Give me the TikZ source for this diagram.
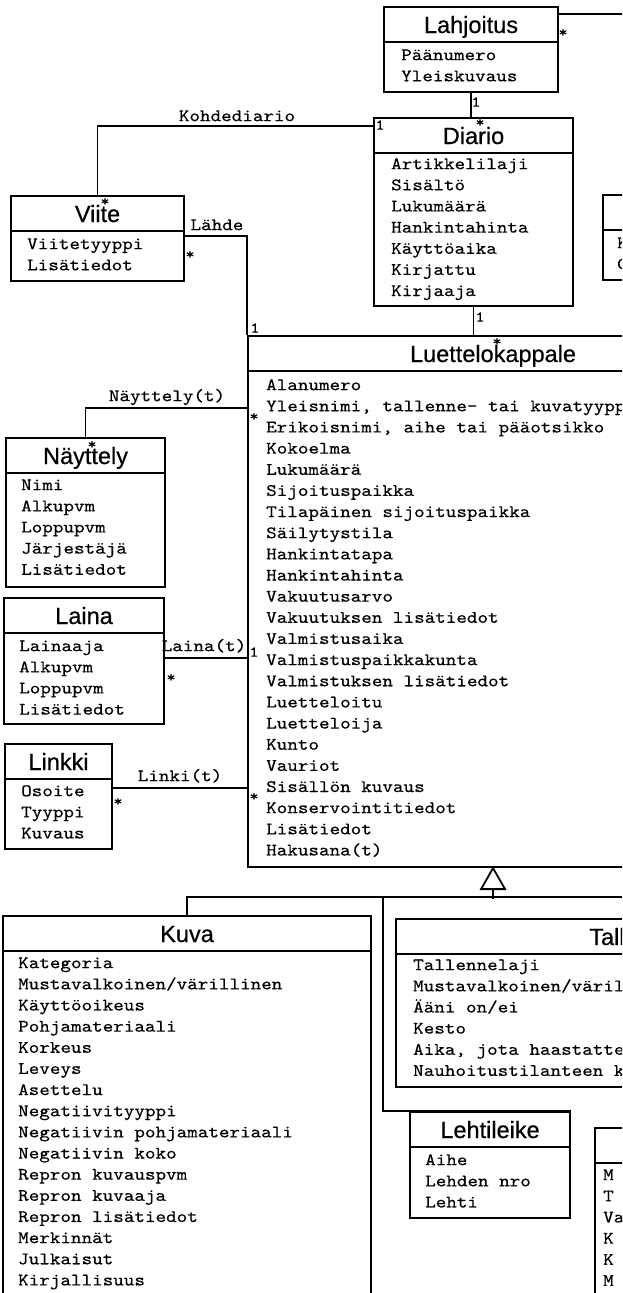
\documentclass[tikz,border=0pt]{standalone}
\usepackage{fontspec}
\usetikzlibrary{calc}
\newfontfamily\titlefont{Liberation Sans}[FakeBold=0.5]
\newfontfamily\attrmono{lmmono10-regular.otf}[FakeStretch=1.15, FakeBold=0.4]
\newcommand{\attrfont}{\attrmono\fontsize{17.5}{17.5}\selectfont}
\tikzset{
	classbox/.style={draw, line width=2.1pt, inner sep=0pt, anchor=north west},
	classtitle/.style={font=\titlefont\fontsize{23.5}{23.5}\selectfont, inner sep=0pt, anchor=base},
	attr/.style={font=\attrfont, inner sep=0pt, anchor=mid west},
	rolename/.style={font=\attrfont, inner sep=0pt, anchor=mid},
	mult/.style={font=\attrmono\fontsize{15}{15}\selectfont, inner sep=0pt},
	assoc/.style={line width=1.8pt},
}
\newcommand{\umlclass}[6] % name, left x, top y (px), width, height, title
{
	% frame
	\node[classbox, minimum width=#4pt, minimum height=#5pt] (#1) at (#2,#3) {};
	% title bar
	\draw[line width=2.1pt] ($(#1.north west)+(0,36)$) -- ($(#1.north east)+(0,36)$);
	\node[classtitle] (#1-title) at ($(#1.north)+(0,27)$) {#6};
}
\newcommand{\umlattrs}[4] % name, text x, first line y, lines
{
	\foreach \txt [count=\i] in {#4}
		\node[attr] (#1-a\i) at (#2, #3+21.15*\i-21.15) {\txt};
}

\begin{document}
\begin{tikzpicture}[x=1pt, y=-1pt]
	% page: 622 x 1293 px, y downwards
	\useasboundingbox (0,0) rectangle (622,1293);
	\clip (0,0) rectangle (622,1293);
	\fill[white] (0,0) rectangle (622,1293);

	% classes
	\umlclass{lahjoitus}{383}{6}{174}{85}{Lahjoitus}
	\umlattrs{lahjoitus}{401}{58}{Päänumero, Yleiskuvaus}
	\umlclass{diario}{373}{117}{199}{188}{Diario}
	\umlattrs{diario}{391}{167}{Artikkelilaji, Sisältö, Lukumäärä, Hankintahinta, Käyttöaika, Kirjattu, Kirjaaja}
	\umlclass{viite}{10}{195}{173}{85}{Viite}
	\umlattrs{viite}{27}{247}{Viitetyyppi, Lisätiedot}
	\umlclass{oikea}{602}{194}{160}{85}{}
	\umlattrs{oikea}{617}{246}{K, C}
	\umlclass{luettelo}{247}{335}{490}{531}{Luettelokappale}
	\umlattrs{luettelo}{266}{388}{Alanumero, {Yleisnimi, tallenne- tai kuvatyypp}, {Erikoisnimi, aihe tai pääotsikko}, Kokoelma, Lukumäärä, Sijoituspaikka, Tilapäinen sijoituspaikka, Säilytystila, Hankintatapa, Hankintahinta, Vakuutusarvo, Vakuutuksen lisätiedot, Valmistusaika, Valmistuspaikkakunta, Valmistuksen lisätiedot, Luetteloitu, Luetteloija, Kunto, Vauriot, Sisällön kuvaus, Konservointitiedot, Lisätiedot, Hakusana(t)}
	\umlclass{nayttely}{5}{437}{159}{149}{Näyttely}
	\umlattrs{nayttely}{21}{488}{Nimi, Alkupvm, Loppupvm, Järjestäjä, Lisätiedot}
	\umlclass{laina}{3}{597}{160}{126}{Laina}
	\umlattrs{laina}{19}{649}{Lainaaja, Alkupvm, Loppupvm, Lisätiedot}
	\umlclass{linkki}{4}{743}{107}{105}{Linkki}
	\umlattrs{linkki}{21}{794}{Osoite, Tyyppi, Kuvaus}
	\umlclass{kuva}{2}{915}{368}{400}{Kuva}
	\umlattrs{kuva}{18}{966}{Kategoria, Mustavalkoinen/värillinen, Käyttöoikeus, Pohjamateriaali, Korkeus, Leveys, Asettelu, Negatiivityyppi, Negatiivin pohjamateriaali, Negatiivin koko, Repron kuvauspvm, Repron kuvaaja, Repron lisätiedot, Merkinnät, Julkaisut, Kirjallisuus}
	\umlclass{tallenne}{395}{918}{474}{168}{Tallenne}
	\umlattrs{tallenne}{413}{968}{Tallennelaji, Mustavalkoinen/väril, Ääni on/ei, Kesto, {Aika, jota haastatte}, Nauhoitustilanteen k}
	\umlclass{lehtileike}{409}{1111}{160}{106}{Lehtileike}
	\umlattrs{lehtileike}{425}{1163}{Aihe, Lehden nro, Lehti}
	\umlclass{alaoikea}{594}{1127}{160}{200}{}
	\umlattrs{alaoikea}{603}{1178}{M, T, Va, K, K, M}

	% associations
	\coordinate (lahjoitusulos) at (640,14);
	\draw[assoc] ($(lahjoitus.north east)+(0,8)$) -- (lahjoitusulos);
	\draw[assoc] (lahjoitus.south) -- (lahjoitus.south |- diario.north);
	\draw[assoc] ($(diario.north west)+(0,9)$) -| (viite.north);
	\draw[assoc] ($(viite.north east)+(0,41)$) -| (luettelo.north west);
	\draw[assoc] (diario.south) -- (diario.south |- luettelo.north);
	\draw[assoc] ($(luettelo.north west)+(0,73)$) -| (nayttely.north);
	\draw[assoc] ($(laina.north east)+(0,61)$) -- ($(luettelo.north west)+(0,323)$);
	\draw[assoc] ($(linkki.north east)+(0,45)$) -- ($(luettelo.north west)+(0,453)$);

	% generalization
	\coordinate (yleistys) at ($(luettelo.south)+(0,31)$);
	\coordinate (yleistysulos) at (640,897);
	\coordinate (haara) at (383,897);
	\draw[assoc, fill=white] (luettelo.south) -- ++(-12,21) -- ++(24,0) -- cycle;
	\draw[assoc] ($(luettelo.south)+(0,21)$) -- (yleistys);
	\draw[assoc] (kuva.north) |- (yleistysulos);
	\draw[assoc] (haara) |- (lehtileike.north east);

	% role names
	\node[rolename] (kohdediario) at (237,119) {Kohdediario};
	\node[rolename] (lahde) at (217,228) {Lähde};
	\node[rolename] (nayttelyt) at (167,399) {Näyttely(t)};
	\node[rolename] (lainat) at (204,649) {Laina(t)};
	\node[rolename] (linkit) at (180,779) {Linki(t)};

	% multiplicities
	\node[mult] (m-lahjoitus-oik) at (563,33) {*};
	\node[mult] (m-lahjoitus-ala) at (476,102) {1};
	\node[mult] (m-diario-yla) at (480,123) {*};
	\node[mult] (m-diario-vas) at (380,125) {1};
	\node[mult] (m-viite-yla) at (105,202) {*};
	\node[mult] (m-viite-oik) at (190,255) {*};
	\node[mult] (m-luettelo-lahde) at (255,328) {1};
	\node[mult] (m-diario-ala) at (480,317) {1};
	\node[mult] (m-luettelo-yla) at (497,342) {*};
	\node[mult] (m-luettelo-nayttely) at (254,417) {*};
	\node[mult] (m-nayttely-yla) at (92,445) {*};
	\node[mult] (m-luettelo-laina) at (254,652) {1};
	\node[mult] (m-laina-oik) at (171,678) {*};
	\node[mult] (m-linkki-oik) at (118,802) {*};
	\node[mult] (m-luettelo-linkki) at (254,797) {*};
\end{tikzpicture}
\end{document}
